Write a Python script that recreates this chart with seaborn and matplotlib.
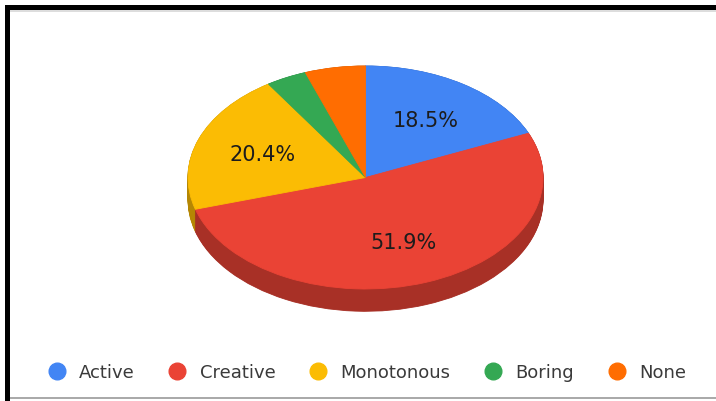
import numpy as np
import matplotlib
matplotlib.use("Agg")
import matplotlib.pyplot as plt
from matplotlib.lines import Line2D
from matplotlib.patches import Rectangle
from matplotlib.colors import to_rgb
import seaborn as sns

# Survey answers (percent of respondents)
categories = ["Active", "Creative", "Monotonous", "Boring", "None"]
shares = [18.5, 51.9, 20.4, 3.7, 5.5]
colors = ["#4285F4", "#EA4335", "#FBBC04", "#34A853", "#FF6D01"]

sns.set_theme(style="white")
plt.rcParams["font.family"] = ["DejaVu Sans"]

W, H = 716, 402
fig = plt.figure(figsize=(W / 100, H / 100), dpi=100)
fig.patch.set_facecolor("white")
ax = fig.add_axes([0, 0, 1, 1])


def outline_like_fill(patches):
    for p in patches:
        p.set_edgecolor(p.get_facecolor())
        p.set_linewidth(0.6)


# darker tones for the rim of the tilted pie
side_colors = [tuple(c * 0.72 for c in to_rgb(col)) for col in colors]
depth = 0.2
for d in np.linspace(depth, 0.0, 30):
    rim, _ = ax.pie(shares, colors=side_colors, startangle=90,
                    counterclock=False, center=(0, -d))
    outline_like_fill(rim)


def pct_label(p):
    return f"{p:.1f}%" if p >= 10 else ""


wedges, _, autotexts = ax.pie(
    shares, colors=colors, startangle=90, counterclock=False,
    autopct=pct_label, pctdistance=0.62,
    textprops=dict(fontsize=15, color="#1c1c1c"))
outline_like_fill(wedges)

# squash the circle into an ellipse: 177 px across, 111 px tall per unit
cx, cy = 365.5, 178.5
rx, ry = 177.5, 111.5
ax.set_aspect("auto")
ax.set_xlim(-cx / rx, (W - cx) / rx)
ax.set_ylim(-(H - cy) / ry, cy / ry)
ax.axis("off")

handles = [Line2D([0], [0], marker="o", linestyle="", markersize=12,
                  markerfacecolor=c, markeredgecolor=c) for c in colors]
leg = fig.legend(handles, categories, loc="center", ncol=5,
                 bbox_to_anchor=(367 / W, 1 - 373 / H), frameon=False,
                 fontsize=13, handlelength=1.0, handletextpad=0.75,
                 columnspacing=1.85)
for t in leg.get_texts():
    t.set_color("#3a3a3a")

# frame around the chart
fig.add_artist(Rectangle((5 / W, 0), 5 / W, 1 - 6 / H, transform=fig.transFigure,
                         facecolor="black", edgecolor="none"))
fig.add_artist(Rectangle((5 / W, 1 - 11 / H), 1, 5 / H, transform=fig.transFigure,
                         facecolor="black", edgecolor="none"))
fig.add_artist(Rectangle((10 / W, 1 - 13 / H), 1, 2 / H, transform=fig.transFigure,
                         facecolor="#dddddd", edgecolor="none"))
fig.add_artist(Rectangle((10 / W, 2 / H), 1, 2 / H, transform=fig.transFigure,
                         facecolor="#aaaaaa", edgecolor="none"))

fig.savefig("out.png", dpi=100)
